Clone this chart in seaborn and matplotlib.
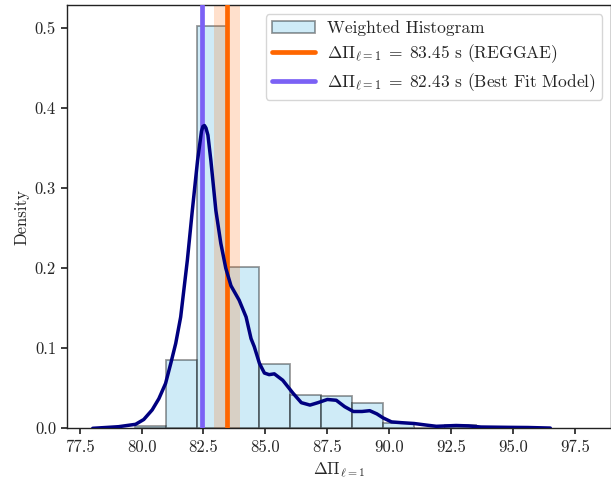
import matplotlib
matplotlib.use("Agg")
import matplotlib.pyplot as plt
import seaborn as sns
import numpy as np

# Histogram bins (edges) and weighted densities
bin_edges = [79.75, 81.0, 82.25, 83.5, 84.75, 86.0, 87.25, 88.5, 89.75, 91.0, 92.25, 93.5]
bin_heights = [0.003, 0.085, 0.502, 0.201, 0.080, 0.042, 0.040, 0.031, 0.007, 0.001, 0.004]

# Smoothed density curve
kde_x = [78.03, 79.07, 79.76, 80.09, 80.43, 80.70, 80.97, 81.18, 81.38, 81.58,
         81.85, 82.05, 82.26, 82.42, 82.48, 82.54, 82.60, 82.68, 82.80, 83.00,
         83.20, 83.40, 83.61, 83.94, 84.22, 84.42, 84.55, 84.76, 84.96, 85.15,
         85.36, 85.70, 86.11, 86.45, 86.80, 87.12, 87.50, 87.86, 88.20, 88.55,
         88.90, 89.21, 89.50, 89.75, 90.09, 90.50, 91.00, 91.50, 91.90, 92.30,
         92.70, 93.20, 93.70, 94.80, 95.60, 96.50]
kde_y = [0.000, 0.002, 0.005, 0.011, 0.023, 0.037, 0.056, 0.081, 0.106, 0.139,
         0.210, 0.272, 0.334, 0.371, 0.377, 0.378, 0.375, 0.366, 0.334, 0.272,
         0.231, 0.200, 0.178, 0.160, 0.139, 0.112, 0.102, 0.081, 0.069, 0.067,
         0.068, 0.060, 0.044, 0.032, 0.029, 0.032, 0.036, 0.035, 0.027, 0.021,
         0.021, 0.022, 0.018, 0.013, 0.008, 0.007, 0.006, 0.004, 0.0025, 0.003,
         0.0035, 0.003, 0.0016, 0.0012, 0.001, 0.0003]

# Period spacing estimates
reggae_value = 83.45
reggae_err = 0.53
best_fit_value = 82.43

sns.set_theme(style="ticks")
plt.rcParams.update({
    "font.family": "serif",
    "font.serif": ["cmr10"],
    "mathtext.fontset": "cm",
    "axes.formatter.use_mathtext": True,
    "axes.unicode_minus": False,
    "font.size": 12,
    "axes.labelsize": 12,
    "xtick.labelsize": 12,
    "ytick.labelsize": 12,
    "legend.fontsize": 12.5,
    "axes.edgecolor": "#222222",
    "axes.linewidth": 1.0,
    "xtick.major.size": 4.5,
    "ytick.major.size": 4.5,
})

fig = plt.figure(figsize=(6.11, 4.8), dpi=100)
ax = fig.add_axes([0.110, 0.1077, 0.890, 0.881])

bin_edges_arr = np.asarray(bin_edges)
bin_centers = (bin_edges_arr[:-1] + bin_edges_arr[1:]) / 2

sns.histplot(x=bin_centers, weights=bin_heights, bins=bin_edges, stat="count",
             facecolor=(0.529, 0.808, 0.922, 0.4), edgecolor=(0, 0, 0, 0.4),
             linewidth=1.3, label="Weighted Histogram", ax=ax, zorder=1)

ax.axvspan(reggae_value - reggae_err, reggae_value + reggae_err,
           color="#FF6600", alpha=0.2, lw=0, zorder=2)
ax.axvline(reggae_value, color="#FF6600", lw=3.4, zorder=3,
           label=r"$\Delta\Pi_{\ell=1}\;=\;%.2f$ s (REGGAE)" % reggae_value)
ax.axvline(best_fit_value, color="#7B61F5", lw=3.4, zorder=3,
           label=r"$\Delta\Pi_{\ell=1}\;=\;%.2f$ s (Best Fit Model)" % best_fit_value)

sns.lineplot(x=kde_x, y=kde_y, color="navy", lw=2.5, estimator=None,
             sort=False, ax=ax, zorder=4)

ax.set_xlim(77.0, 98.95)
ax.set_ylim(0, 0.528)
ax.set_xticks([77.5, 80.0, 82.5, 85.0, 87.5, 90.0, 92.5, 95.0, 97.5])
ax.set_xticklabels(["77.5", "80.0", "82.5", "85.0", "87.5", "90.0", "92.5", "95.0", "97.5"])
ax.set_yticks([0.0, 0.1, 0.2, 0.3, 0.4, 0.5])
ax.set_yticklabels(["0.0", "0.1", "0.2", "0.3", "0.4", "0.5"])
ax.set_xlabel(r"$\Delta\Pi_{\ell=1}$")
ax.set_ylabel("Density")

handles, labels = ax.get_legend_handles_labels()
order = [labels.index("Weighted Histogram")] + [i for i, l in enumerate(labels) if l != "Weighted Histogram"]
ax.legend([handles[i] for i in order], [labels[i] for i in order],
          loc="upper right", frameon=True, fancybox=True, framealpha=0.8,
          edgecolor="#cccccc", handlelength=2.5, handletextpad=0.7,
          borderpad=0.35, labelspacing=0.35)

fig.savefig("out.png", dpi=100)
